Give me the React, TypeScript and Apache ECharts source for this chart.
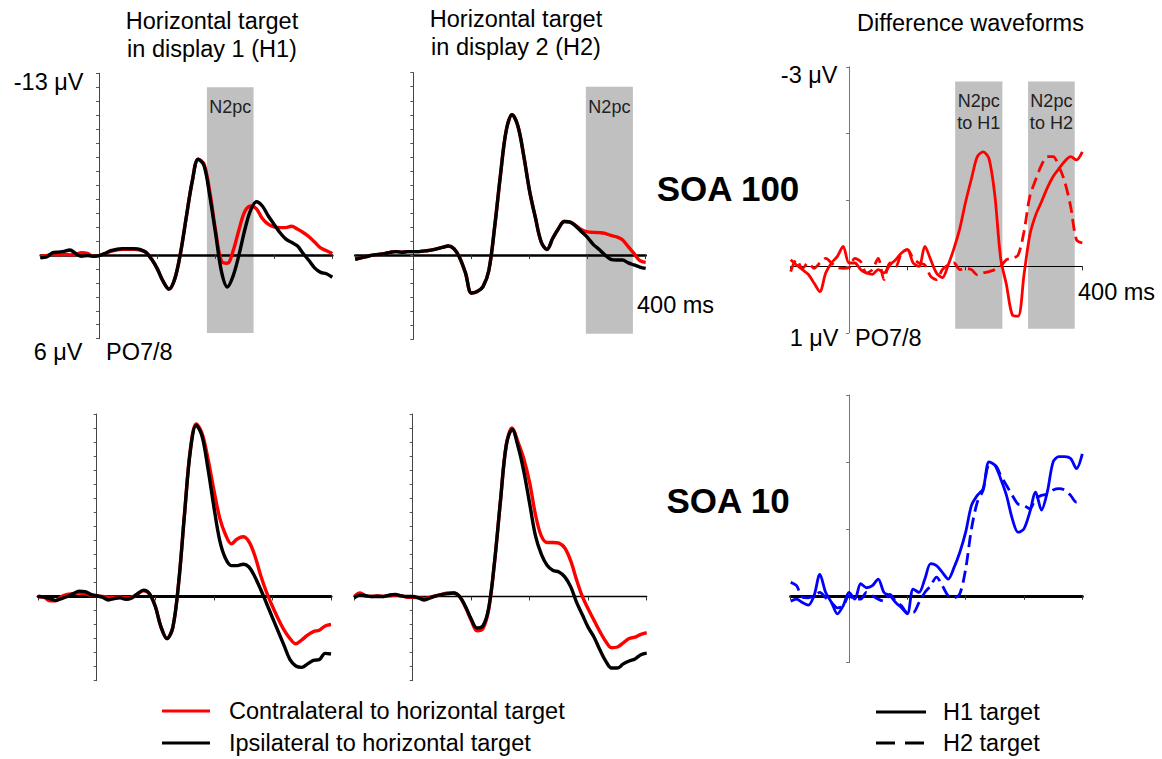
import React, { useEffect, useRef } from "react";
import * as echarts from "echarts";

// ---------- DATA (μV, negative plotted upward) ----------
const TIME_MS = [
  -100, -90, -80, -70, -60, -50, -40, -30, -20, -10, 0,
  10, 20, 30, 40, 50, 60, 70, 80, 90, 100,
  110, 120, 130, 140, 150, 160, 170, 180, 190, 200,
  210, 220, 230, 240, 250, 260, 270, 280, 290, 300,
  310, 320, 330, 340, 350, 360, 370, 380, 390, 400,
];

// SOA 100, target in display 1
const SOA100_H1_CONTRA = [
  0.1, 0.05, -0.05, 0.0, -0.05, 0.0, -0.05, -0.15, -0.1, 0.1, 0.05,
  -0.1, -0.25, -0.35, -0.4, -0.4, -0.4, -0.35, -0.2, 0.3, 1.0,
  1.9, 2.45, 1.7, -0.2, -2.8, -5.3, -6.85, -6.5, -4.5, -1.7,
  0.45, 0.6, -0.3, -1.8, -3.1, -3.5, -3.3, -2.6, -2.2, -2.0,
  -1.95, -1.95, -2.05, -1.85, -1.6, -1.3, -0.9, -0.5, -0.3, -0.1,
];
const SOA100_H1_IPSI = [
  0.2, 0.15, -0.15, -0.2, -0.25, -0.35, -0.1, 0.1, 0.05, 0.1, 0.05,
  -0.1, -0.3, -0.4, -0.45, -0.45, -0.45, -0.4, -0.2, 0.3, 1.0,
  1.9, 2.45, 1.7, -0.2, -2.8, -5.3, -6.85, -6.4, -4.2, -1.5,
  1.2, 2.3, 1.5, 0.0, -1.8, -3.2, -3.8, -3.5, -2.8, -2.2,
  -1.6, -1.15, -0.9, -0.65, -0.1, 0.4, 0.95, 1.25, 1.35, 1.6,
];

// SOA 100, target in display 2
const SOA100_H2_CONTRA = [
  0.3, 0.2, 0.1, 0.0, -0.05, -0.1, -0.2, -0.25, -0.2, -0.25, -0.25,
  -0.25, -0.3, -0.35, -0.45, -0.55, -0.65, -0.45, 0.2, 1.3, 2.7,
  2.6, 2.25, 1.1, -2.0, -5.7, -8.9, -10.0, -9.2, -7.1, -4.6,
  -2.7, -0.95, -0.4, -1.2, -1.9, -2.4, -2.35, -2.1, -1.8, -1.65,
  -1.62, -1.6, -1.55, -1.4, -1.3, -1.1, -0.6, -0.1, 0.4, 0.52,
];
const SOA100_H2_IPSI = [
  0.3, 0.2, 0.1, 0.0, -0.05, -0.1, -0.2, -0.25, -0.2, -0.25, -0.25,
  -0.25, -0.3, -0.35, -0.45, -0.55, -0.65, -0.45, 0.2, 1.3, 2.7,
  2.6, 2.25, 1.1, -2.0, -5.7, -8.9, -10.0, -9.2, -7.1, -4.6,
  -2.7, -0.95, -0.4, -1.2, -1.9, -2.4, -2.35, -2.05, -1.65, -1.25,
  -0.75, -0.4, 0.0, 0.3, 0.35, 0.35, 0.55, 0.7, 0.85, 0.95,
];

// SOA 100, difference waveforms (contra - ipsi)
const SOA100_DIFF_H1 = [
  -0.1, -0.02, 0.05, 0.12, 0.25, 0.38, 0.1, -0.05, -0.15, -0.3, -0.05,
  -0.05, 0.05, 0.1, 0.12, 0.05, 0.1, -0.02, -0.1, -0.2, -0.25,
  -0.05, 0.0, -0.3, -0.1, 0.1, 0.17, -0.02, -0.27, -0.57, -0.97,
  -1.32, -1.65, -1.72, -1.62, -1.07, -0.12, 0.28, 0.73, 0.75, 0.13,
  -0.47, -0.77, -0.97, -1.18, -1.35, -1.47, -1.58, -1.65, -1.6, -1.72,
];
const SOA100_DIFF_H2 = [
  0.08, -0.1, 0.03, -0.05, 0.03, -0.05, -0.12, -0.05, 0.02, 0.03, 0.02,
  -0.12, -0.07, 0.1, 0.05, -0.12, 0.2, -0.05, 0.0, -0.2, -0.25,
  -0.12, -0.05, -0.02, 0.15, 0.2, 0.05, -0.02, -0.05, 0.05, 0.03,
  0.05, 0.13, 0.1, 0.08, 0.05, 0.0, -0.1, -0.12, -0.17, -0.52,
  -1.05, -1.3, -1.52, -1.65, -1.65, -1.5, -1.27, -0.9, -0.4, -0.35,
];

// SOA 10, target in display 1
const SOA10_H1_CONTRA = [
  0.0, 0.05, 0.3, 0.3, 0.0, -0.15, -0.2, -0.25, -0.2, -0.1, -0.05,
  0.0, 0.05, 0.05, 0.05, 0.1, 0.05, -0.2, -0.4, -0.2, 0.7,
  2.2, 3.0, 2.2, -1.0, -5.9, -10.5, -12.3, -11.6, -9.8, -7.6,
  -5.6, -4.4, -3.75, -4.1, -4.25, -3.9, -2.9, -1.5, -0.3, 0.7,
  1.6, 2.4, 3.0, 3.37, 3.1, 2.75, 2.5, 2.4, 2.1, 2.0,
];
const SOA10_H1_IPSI = [
  0.0, 0.05, 0.15, 0.28, 0.15, 0.0, -0.2, -0.38, -0.35, -0.15, -0.05,
  0.05, 0.25, 0.15, 0.1, 0.2, 0.1, -0.2, -0.45, -0.2, 0.7,
  2.2, 3.0, 2.2, -1.0, -5.9, -10.4, -12.2, -11.4, -9.1, -6.4,
  -4.0, -2.7, -2.2, -2.2, -2.3, -2.1, -1.4, -0.5, 0.5, 1.5,
  2.5, 3.5, 4.5, 4.95, 5.05, 4.8, 4.55, 4.5, 4.05, 4.1,
];

// SOA 10, target in display 2
const SOA10_H2_CONTRA = [
  0.0, -0.25, -0.05, 0.0, -0.05, 0.0, -0.05, -0.1, -0.05, 0.05, 0.05,
  0.1, 0.15, 0.05, -0.05, -0.15, -0.25, -0.25, 0.0, 0.75, 1.7,
  2.45, 2.3, 0.9, -2.5, -6.8, -10.8, -12.0, -11.0, -9.8, -8.1,
  -5.8, -4.3, -3.85, -3.85, -3.8, -3.45, -2.55, -1.2, 0.0, 0.9,
  1.7, 2.5, 3.2, 3.65, 3.6, 3.3, 3.0, 2.9, 2.7, 2.57,
];
const SOA10_H2_IPSI = [
  0.1, -0.1, -0.05, 0.0, 0.0, 0.0, -0.1, -0.15, -0.05, 0.0, 0.0,
  0.1, 0.25, 0.1, -0.05, -0.15, -0.2, -0.25, 0.0, 0.7, 1.6,
  2.25, 2.1, 0.8, -2.5, -6.8, -10.8, -11.9, -10.7, -8.9, -6.6,
  -4.3, -3.0, -2.2, -1.85, -1.75, -1.4, -0.7, 0.4, 1.3, 2.2,
  2.9, 3.8, 4.6, 5.1, 5.1, 4.8, 4.6, 4.45, 4.15, 4.04,
];

// SOA 10, difference waveforms
const SOA10_DIFF_H1 = [
  0.08, 0.05, 0.1, 0.14, 0.0, -0.32, -0.05, 0.1, 0.27, 0.15, -0.05,
  0.05, -0.18, -0.12, -0.15, -0.25, -0.05, 0.0, 0.1, 0.18, 0.27,
  -0.1, -0.05, -0.25, -0.48, -0.45, -0.35, -0.25, -0.42, -0.65, -0.95,
  -1.35, -1.5, -1.6, -2.0, -1.95, -1.75, -1.5, -1.15, -0.95, -1.0,
  -1.25, -1.55, -1.28, -1.55, -2.0, -2.08, -2.08, -2.05, -1.9, -2.12,
];
const SOA10_DIFF_H2 = [
  -0.2, -0.15, 0.02, 0.03, 0.0, -0.05, 0.03, 0.1, 0.18, 0.15, 0.0,
  0.05, 0.05, -0.05, 0.0, 0.05, 0.08, -0.02, 0.08, 0.15, 0.25,
  0.25, 0.1, -0.05, -0.15, -0.28, -0.15, 0.0, 0.03, -0.03, -0.4,
  -1.0, -1.4, -1.58, -1.95, -1.95, -1.8, -1.65, -1.5, -1.37, -1.35,
  -1.3, -1.45, -1.5, -1.52, -1.58, -1.6, -1.58, -1.5, -1.4, -1.43,
];

// N2pc analysis windows [startMs, endMs] and box extent in μV
const N2PC_H1_WINDOW = [185, 265];
const N2PC_H2_WINDOW_SOA100 = [297, 378];
const DIFF_H1_WINDOW = [182, 263];
const DIFF_H2_WINDOW = [307, 387];
const ERP_BOX_UV = [-12, 5.6];
const DIFF_BOX_UV = [-2.78, 0.94];

const ERP_Y_RANGE = [-13, 6];
const DIFF_Y_RANGE = [-3, 1];
const X_RANGE = [-100, 400];

const ERP_Y_LABELS = ["-13 μV", "6 μV"];
const DIFF_Y_LABELS = ["-3 μV", "1 μV"];
const X_END_LABEL = "400 ms";
const ELECTRODE = "PO7/8";

const LEGEND_ERP = ["Contralateral to horizontal target", "Ipsilateral to horizontal target"];
const LEGEND_DIFF = ["H1 target", "H2 target"];

// ---------- STYLE ----------
const FONT = '"Liberation Sans", Arial, Helvetica, sans-serif';
const RED = "#ff0000";
const BLACK = "#000000";
const BLUE = "#0000ff";
const BOX = "#c0c0c0";

const pair = (vals: number[]) => TIME_MS.map((t, i) => [t, vals[i]]);

function buildOption() {
  const grids = [
    { left: 40.7, top: 73.3, width: 291.6, height: 265.4 },
    { left: 355.2, top: 72.7, width: 290.5, height: 266.6 },
    { left: 790.7, top: 66.8, width: 291.6, height: 266 },
    { left: 38.1, top: 414, width: 292.9, height: 266.7 },
    { left: 354.2, top: 414, width: 292.5, height: 266.7 },
    { left: 790.7, top: 395, width: 291.6, height: 267.7 },
  ];
  const zeroWidth = [2.5, 2.5, 1, 3, 1.3, 3];
  const isDiff = [false, false, true, false, false, true];

  const xAxis = grids.map((_, i) => ({
    type: "value",
    gridIndex: i,
    min: X_RANGE[0],
    max: X_RANGE[1],
    interval: 100,
    z: 2,
    axisLine: { show: true, onZero: true, lineStyle: { color: BLACK, width: zeroWidth[i] } },
    axisTick: { show: true, length: 4, lineStyle: { color: "#333", width: 1 } },
    axisLabel: { show: false },
    splitLine: { show: false },
  }));
  const yAxis = grids.map((_, i) => {
    const r = isDiff[i] ? DIFF_Y_RANGE : ERP_Y_RANGE;
    return {
      type: "value",
      gridIndex: i,
      inverse: true,
      min: r[0],
      max: r[1],
      interval: 1,
      z: 2,
      axisLine: { show: true, onZero: true, lineStyle: { color: isDiff[i] ? "#777" : "#444", width: 1 } },
      axisTick: { show: true, length: 3, lineStyle: { color: isDiff[i] ? "#777" : "#555", width: 1 } },
      axisLabel: { show: false },
      splitLine: { show: false },
    };
  });

  const boxLabel = {
    show: true,
    position: "insideTop",
    distance: 9,
    fontSize: 18,
    lineHeight: 22,
    color: "#222",
    fontFamily: FONT,
  };
  const area = (names: string[], wins: number[][], uv: number[]) => ({
    silent: true,
    itemStyle: { color: BOX, opacity: 1 },
    label: boxLabel,
    data: wins.map((w, k) => [
      { name: names[k], xAxis: w[0], yAxis: uv[0] },
      { xAxis: w[1], yAxis: uv[1] },
    ]),
  });

  const erp = (i: number, name: string, vals: number[], color: string, extra: any = {}) => ({
    type: "line",
    name,
    xAxisIndex: i,
    yAxisIndex: i,
    data: pair(vals),
    symbol: "none",
    smooth: 0.35,
    z: 3,
    lineStyle: { color, width: 3.4 },
    ...extra,
  });
  const diff = (i: number, name: string, vals: number[], color: string, dashed: boolean, extra: any = {}) => ({
    type: "line",
    name,
    xAxisIndex: i,
    yAxisIndex: i,
    data: pair(vals),
    symbol: "none",
    smooth: 0.3,
    z: 3,
    lineStyle: { color, width: 2.8, type: dashed ? [12, 6] : "solid" },
    ...extra,
  });

  const series = [
    erp(0, LEGEND_ERP[0], SOA100_H1_CONTRA, RED, {
      markArea: area(["N2pc"], [N2PC_H1_WINDOW], ERP_BOX_UV),
    }),
    erp(0, LEGEND_ERP[1], SOA100_H1_IPSI, BLACK),
    erp(1, LEGEND_ERP[0], SOA100_H2_CONTRA, RED, {
      markArea: area(["N2pc"], [N2PC_H2_WINDOW_SOA100], ERP_BOX_UV),
    }),
    erp(1, LEGEND_ERP[1], SOA100_H2_IPSI, BLACK),
    diff(2, LEGEND_DIFF[1], SOA100_DIFF_H2, RED, true),
    diff(2, LEGEND_DIFF[0], SOA100_DIFF_H1, RED, false, {
      markArea: area(["N2pc\nto H1", "N2pc\nto H2"], [DIFF_H1_WINDOW, DIFF_H2_WINDOW], DIFF_BOX_UV),
    }),
    erp(3, LEGEND_ERP[0], SOA10_H1_CONTRA, RED),
    erp(3, LEGEND_ERP[1], SOA10_H1_IPSI, BLACK),
    erp(4, LEGEND_ERP[0], SOA10_H2_CONTRA, RED),
    erp(4, LEGEND_ERP[1], SOA10_H2_IPSI, BLACK),
    diff(5, LEGEND_DIFF[1], SOA10_DIFF_H2, BLUE, true),
    diff(5, LEGEND_DIFF[0], SOA10_DIFF_H1, BLUE, false),
  ];

  const txt = (text: string, x: number, y: number, align: string, size = 23.5, weight = "normal", lh?: number) => ({
    type: "text",
    x,
    y,
    silent: true,
    style: {
      text,
      fill: BLACK,
      fontSize: size,
      fontWeight: weight,
      fontFamily: FONT,
      textAlign: align,
      textVerticalAlign: "middle",
      lineHeight: lh,
    },
  });
  const seg = (x1: number, x2: number, y: number, color: string, dash?: number[]) => ({
    type: "line",
    silent: true,
    shape: { x1, y1: y, x2, y2: y },
    style: { stroke: color, lineWidth: 3, lineDash: dash },
  });

  const graphic = [
    txt("Horizontal target\nin display 1 (H1)", 212, 35, "center", 23.5, "normal", 28.5),
    txt("Horizontal target\nin display 2 (H2)", 516, 33, "center", 23.5, "normal", 28.5),
    txt("Difference waveforms", 970.5, 23, "center"),
    txt(ERP_Y_LABELS[0], 83.5, 82, "right"),
    txt(ERP_Y_LABELS[1], 82.5, 352, "right"),
    txt(ELECTRODE, 106, 352, "left"),
    txt(X_END_LABEL, 637, 305, "left"),
    txt("SOA 100", 728, 188, "center", 35, "bold"),
    txt("SOA 10", 728, 500, "center", 35, "bold"),
    txt(DIFF_Y_LABELS[0], 837.5, 75, "right"),
    txt(DIFF_Y_LABELS[1], 838.5, 338, "right"),
    txt(ELECTRODE, 855, 338, "left"),
    txt(X_END_LABEL, 1078, 292, "left"),
    seg(162, 210, 711, RED),
    txt(LEGEND_ERP[0], 229, 711, "left"),
    seg(162, 210, 743, BLACK),
    txt(LEGEND_ERP[1], 229, 743, "left"),
    seg(876, 926, 712, BLACK),
    txt(LEGEND_DIFF[0], 943, 712, "left"),
    seg(876, 926, 743, BLACK, [19, 10]),
    txt(LEGEND_DIFF[1], 943, 743, "left"),
  ];

  return {
    animation: false,
    backgroundColor: "#ffffff",
    grid: grids.map((g) => ({ ...g, containLabel: false })),
    xAxis,
    yAxis,
    series,
    graphic,
  };
}

export default function App() {
  const ref = useRef<HTMLDivElement>(null);
  useEffect(() => {
    document.body.style.margin = "0";
    const chart = echarts.init(ref.current as HTMLDivElement, null, { renderer: "svg" });
    chart.setOption(buildOption() as any);
    return () => chart.dispose();
  }, []);
  return <div ref={ref} style={{ width: 1162, height: 759, position: "absolute", left: 0, top: 0 }} />;
}
